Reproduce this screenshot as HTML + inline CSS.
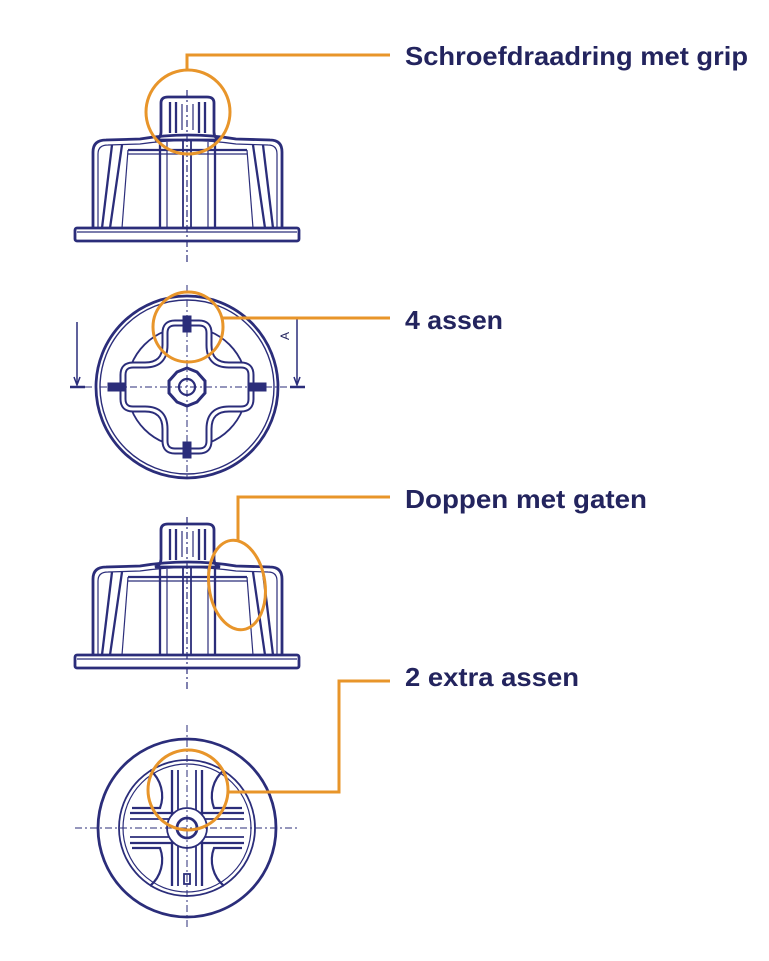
<!DOCTYPE html>
<html><head><meta charset="utf-8"><style>
html,body{margin:0;padding:0;background:#fff;}
svg{display:block}
text{font-family:"Liberation Sans",sans-serif;font-weight:bold;fill:#23245e;font-size:26px}
</style></head><body>
<svg width="769" height="961" viewBox="0 0 769 961" xmlns="http://www.w3.org/2000/svg">
<defs>
<g id="side" fill="none" stroke="#2b2d7a" stroke-width="2.3">
  <rect x="75" y="228" width="224" height="13" rx="2" stroke-width="2.8"/>
  <line x1="77" y1="232" x2="297" y2="232" stroke-width="1.2"/>
  <path d="M93,228 V152 Q93,140 106,140 L140,139 Q188,131 236,139 L270,140 Q282,140 282,152 V228" stroke-width="2.8"/>
  <path d="M98,228 V154 Q98,145 108,145 L140,144 Q188,137 236,144 L268,145 Q277,145 277,154 V228" stroke-width="1.2"/>
  <line x1="112" y1="145" x2="102" y2="228"/>
  <line x1="122" y1="145" x2="110" y2="228"/>
  <line x1="128" y1="150" x2="122" y2="228" stroke-width="1.2"/>
  <line x1="263" y1="145" x2="273" y2="228"/>
  <line x1="253" y1="145" x2="265" y2="228"/>
  <line x1="247" y1="150" x2="253" y2="228" stroke-width="1.2"/>
  <line x1="128" y1="150" x2="247" y2="150"/>
  <line x1="128" y1="154" x2="247" y2="154" stroke-width="1.2"/>
  <line x1="160" y1="140" x2="160" y2="228"/>
  <line x1="167" y1="142" x2="167" y2="228" stroke-width="1.2"/>
  <line x1="215" y1="140" x2="215" y2="228"/>
  <line x1="208" y1="142" x2="208" y2="228" stroke-width="1.2"/>
  <rect x="183" y="140" width="8" height="88" stroke-width="1.8"/>
  <path d="M161,132 V103 Q161,97 168,97 H207 Q214,97 214,103 V132 Q214,138 220,140 H155 Q161,138 161,132 Z" stroke-width="2.8"/>
  <line x1="170" y1="102" x2="170" y2="133"/>
  <line x1="176" y1="102" x2="176" y2="133"/>
  <line x1="199" y1="102" x2="199" y2="133"/>
  <line x1="205" y1="102" x2="205" y2="133"/>
  <line x1="182" y1="104" x2="182" y2="130" stroke-width="1.2"/>
  <line x1="193" y1="104" x2="193" y2="130" stroke-width="1.2"/>
  <line x1="187" y1="90" x2="187" y2="265" stroke-width="1.2" stroke-dasharray="7,3,2,3"/>
</g>
</defs>

<use href="#side"/>
<use href="#side" transform="translate(0,427)"/>

<!-- top view 1 -->
<g fill="none" stroke="#2b2d7a">
  <circle cx="187" cy="387" r="91" stroke-width="2.8"/>
  <circle cx="187" cy="387" r="87" stroke-width="1.4"/>
  <circle cx="187" cy="387" r="60" stroke-width="1.8"/>
  <path d="M165,333 Q165,323 175,323 H199 Q209,323 209,333 V345 Q209,365 229,365 H241 Q251,365 251,375 V399 Q251,409 241,409 H229 Q209,409 209,429 V441 Q209,451 199,451 H175 Q165,451 165,441 V429 Q165,409 145,409 H133 Q123,409 123,399 V375 Q123,365 133,365 H145 Q165,365 165,345 Z" stroke-width="7" fill="#fff" stroke-linejoin="round"/>
  <path d="M165,333 Q165,323 175,323 H199 Q209,323 209,333 V345 Q209,365 229,365 H241 Q251,365 251,375 V399 Q251,409 241,409 H229 Q209,409 209,429 V441 Q209,451 199,451 H175 Q165,451 165,441 V429 Q165,409 145,409 H133 Q123,409 123,399 V375 Q123,365 133,365 H145 Q165,365 165,345 Z" stroke-width="3" stroke="#fff" stroke-linejoin="round"/>
  <polygon points="187,368 197,372 205,381 205,393 197,402 187,406 177,402 169,393 169,381 177,372" stroke-width="3"/>
  <circle cx="187" cy="387" r="8" stroke-width="2.2"/>
  <line x1="85" y1="387" x2="290" y2="387" stroke-width="1" stroke-dasharray="7,3,2,3"/>
  <line x1="187" y1="285" x2="187" y2="480" stroke-width="1" stroke-dasharray="7,3,2,3"/>
  <rect x="183" y="316" width="8" height="16" fill="#2b2d7a"/>
  <rect x="183" y="442" width="8" height="16" fill="#2b2d7a"/>
  <rect x="108" y="383" width="16" height="8" fill="#2b2d7a"/>
  <rect x="250" y="383" width="16" height="8" fill="#2b2d7a"/>
  <line x1="77" y1="322" x2="77" y2="383" stroke-width="1.5"/>
  <path d="M74,377 L77,385 L80,377" stroke-width="1.5"/>
  <line x1="70" y1="387" x2="85" y2="387" stroke-width="2.5"/>
  <line x1="297" y1="318" x2="297" y2="383" stroke-width="1.5"/>
  <path d="M294,377 L297,385 L300,377" stroke-width="1.5"/>
  <line x1="290" y1="387" x2="305" y2="387" stroke-width="2.5"/>
</g>
<text x="0" y="0" transform="translate(289,336) rotate(-90)" style="font-size:12px;font-weight:normal" text-anchor="middle">A</text>

<!-- bottom view -->
<g fill="none" stroke="#2b2d7a">
  <circle cx="187" cy="828" r="89" stroke-width="2.8"/>
  <circle cx="187" cy="828" r="68" stroke-width="1.8"/>
  <circle cx="187" cy="828" r="64" stroke-width="1.2"/>
  <line x1="172" y1="770" x2="172" y2="886" stroke-width="2.3"/>
  <line x1="178" y1="770" x2="178" y2="886" stroke-width="1.8"/>
  <line x1="196" y1="770" x2="196" y2="886" stroke-width="1.8"/>
  <line x1="202" y1="770" x2="202" y2="886" stroke-width="2.3"/>
  <line x1="130" y1="813" x2="244" y2="813" stroke-width="2.3"/>
  <line x1="130" y1="819" x2="244" y2="819" stroke-width="1.8"/>
  <line x1="130" y1="837" x2="244" y2="837" stroke-width="1.8"/>
  <line x1="130" y1="843" x2="244" y2="843" stroke-width="2.3"/>
  <circle cx="187" cy="828" r="20" fill="#fff" stroke-width="1.8"/>
  <circle cx="187" cy="828" r="10" stroke-width="2.8"/>
  <path d="M150,770 A34,34 0 0 1 160,808 L132,808" stroke-width="2.2"/>
  <path d="M224,770 A34,34 0 0 0 214,808 L242,808" stroke-width="2.2"/>
  <path d="M150,886 A34,34 0 0 0 160,848 L132,848" stroke-width="2.2"/>
  <path d="M224,886 A34,34 0 0 1 214,848 L242,848" stroke-width="2.2"/>
  <line x1="75" y1="828" x2="300" y2="828" stroke-width="1" stroke-dasharray="7,3,2,3"/>
  <line x1="187" y1="725" x2="187" y2="930" stroke-width="1" stroke-dasharray="7,3,2,3"/>
  <rect x="184" y="874" width="6" height="10" stroke-width="1.8"/>
</g>

<!-- orange callouts -->
<g fill="none" stroke="#e8952a" stroke-width="3">
  <circle cx="188" cy="112" r="42"/>
  <polyline points="187,70 187,55 390,55"/>
  <circle cx="188" cy="327" r="35"/>
  <polyline points="223,318 390,318"/>
  <ellipse cx="237" cy="585" rx="28" ry="45" transform="rotate(-8 237 585)"/>
  <polyline points="238,540 238,497 390,497"/>
  <circle cx="188" cy="790" r="40"/>
  <polyline points="228,792 339,792 339,681 390,681"/>
</g>

<text x="405" y="65" textLength="343" lengthAdjust="spacingAndGlyphs">Schroefdraadring met grip</text>
<text x="405" y="329" textLength="98" lengthAdjust="spacingAndGlyphs">4 assen</text>
<text x="405" y="508" textLength="242" lengthAdjust="spacingAndGlyphs">Doppen met gaten</text>
<text x="405" y="686" textLength="174" lengthAdjust="spacingAndGlyphs">2 extra assen</text>
</svg>
</body></html>
